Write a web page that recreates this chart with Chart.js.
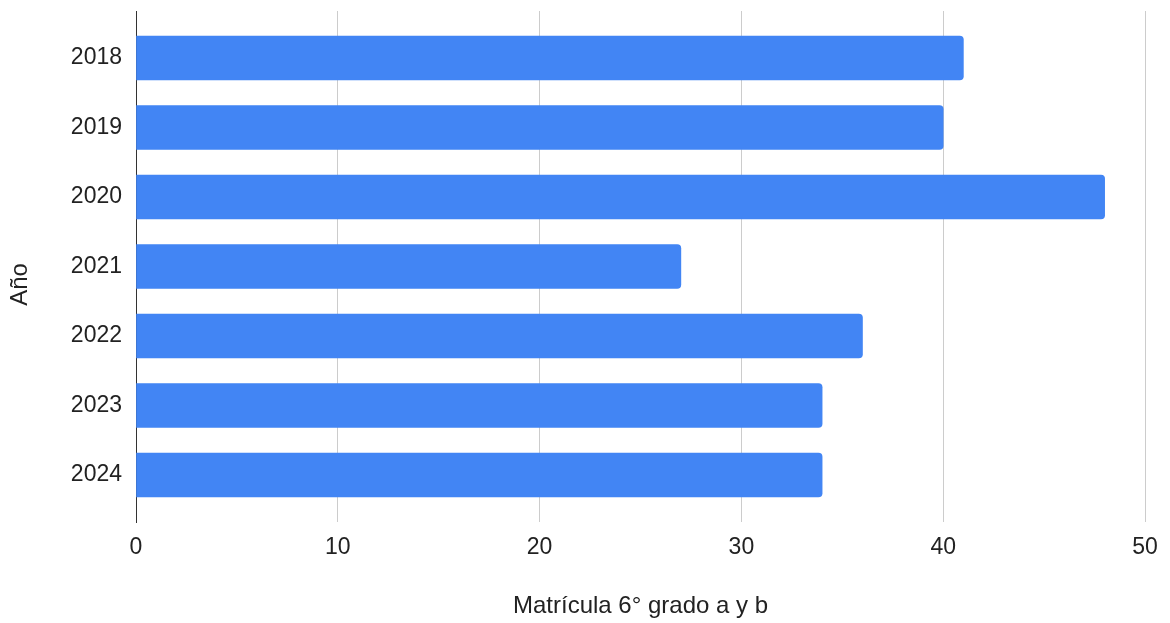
<!DOCTYPE html>
<html><head><meta charset="utf-8">
<script src="https://cdn.jsdelivr.net/npm/chart.js@4"></script>
<style>html,body{margin:0;padding:0;background:#fff}#wrap{width:1170px;height:623px}</style>
</head><body><div id="wrap"><canvas id="c" width="1170" height="623"></canvas></div>
<script>
const categories = ['2018', '2019', '2020', '2021', '2022', '2023', '2024'];
const matricula = [41, 40, 48, 27, 36, 34, 34];
const xTicks = [0, 10, 20, 30, 40, 50];
const xTitle = 'Matrícula 6° grado a y b';
const yTitle = 'Año';

const FONT = "'Liberation Sans', Arial, sans-serif";
const TXT = '#222222';

const yTitlePlugin = {
  id: 'yTitle',
  afterDraw(chart) {
    const {ctx, chartArea} = chart;
    ctx.save();
    ctx.fillStyle = TXT;
    ctx.font = "24px " + FONT;
    ctx.textAlign = 'center';
    ctx.textBaseline = 'middle';
    ctx.translate(20, (chartArea.top + chartArea.bottom) / 2 + 18);
    ctx.rotate(-Math.PI / 2);
    ctx.fillText(yTitle, 0, 0);
    ctx.restore();
  }
};

new Chart(document.getElementById('c'), {
  type: 'bar',
  data: {
    datasets: [{
      data: matricula.map((v, i) => ({x: v, y: i})),
      backgroundColor: '#4285F4',
      borderWidth: 0,
      borderRadius: 4,
      borderSkipped: 'start',
      barThickness: 44
    }]
  },
  options: {
    indexAxis: 'y',
    responsive: false,
    animation: false,
    devicePixelRatio: 1,
    layout: {autoPadding: false, padding: {top: 11, right: 25, left: 0, bottom: 0}},
    plugins: {legend: {display: false}, tooltip: {enabled: false}},
    scales: {
      x: {
        type: 'linear',
        min: 0, max: 50,
        afterBuildTicks: s => { s.ticks = xTicks.map(v => ({value: v})); },
        afterFit: s => { s.height = 101; s.paddingLeft = 0; s.paddingRight = 0; },
        grid: {
          color: c => (c.tick && c.tick.value === 0) ? 'rgba(0,0,0,0)' : '#cccccc',
          lineWidth: 1,
          drawTicks: false
        },
        border: {display: false},
        ticks: {padding: 12, color: TXT, font: {family: FONT, size: 23}},
        title: {display: true, text: xTitle, color: TXT, font: {family: FONT, size: 24}, padding: {top: 0, bottom: 2}}
      },
      y: {
        type: 'linear',
        offset: false,
        reverse: true,
        min: -0.676, max: 6.676,
        afterBuildTicks: s => { s.ticks = categories.map((_, i) => ({value: i})); },
        afterFit: s => { s.width = 136; s.paddingTop = 0; s.paddingBottom = 0; },
        grid: {display: false, drawTicks: false},
        border: {display: true, color: '#333333', width: 1},
        ticks: {padding: 14, color: TXT, font: {family: FONT, size: 23}, callback: v => categories[v]}
      }
    }
  },
  plugins: [yTitlePlugin]
});
</script>
</body></html>
